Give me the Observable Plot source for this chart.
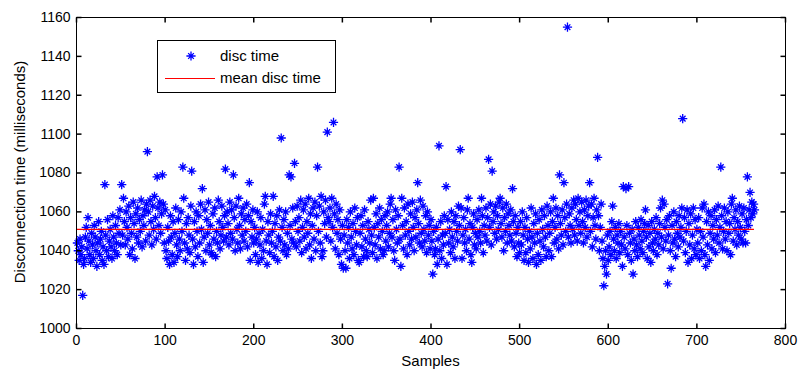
<!DOCTYPE html>
<html><head><meta charset="utf-8">
<script src="https://cdn.jsdelivr.net/npm/d3@7"></script>
<script src="https://cdn.jsdelivr.net/npm/@observablehq/plot@0.6"></script>
<style>body{margin:0;background:#fff}#chart{width:800px;height:376px}</style>
</head><body><div id="chart"></div><script>
// Disconnection time per sample (ms)
const discTime = [
1044,1040,1035,1046,1038,1042,1017,1033,1036,1047,1052,1041,1057,1045,1038,1034,1049,1043,1036,1053,1047,1040,1032,1044,1055,
1038,1046,1050,1035,1042,1033,1074,1048,1040,1056,1037,1045,1051,1042,1036,1058,1047,1040,1053,1044,1038,1057,1049,1061,1043,
1074,1048,1067,1055,1043,1060,1052,1046,1063,1038,1057,1049,1041,1065,1054,1036,1059,1047,1062,1044,1056,1050,1066,1042,1058,1053,1061,1045,1064,1091,
1060,1048,1066,1055,1043,1063,1051,1068,1057,1046,1078,1062,1053,1065,1049,1059,1079,1064,1044,1061,
1040,1036,1052,1045,1033,1058,1047,1038,1055,1034,1049,1062,1043,1037,1056,1046,1040,1060,1050,1083,1067,1044,1035,1054,1041,1057,1048,1039,1063,1081,
1046,1033,1055,1042,1060,1050,1037,1058,1044,1064,1051,1072,1034,1047,1061,1040,1056,1049,1065,1043,
1053,1039,1038,1059,1046,1062,1037,1050,1044,1066,1055,1041,1048,1063,1052,1045,1058,1082,1047,1060,
1054,1043,1065,1049,1061,1046,1079,1057,1040,1063,1051,1044,1067,1053,1041,1059,1048,1062,1045,1056,1050,1064,1042,1058,1075,1035,1055,1047,1061,1044,
1052,1038,1046,1060,1034,1049,1043,1057,1036,1051,1040,1064,1068,1045,1033,1055,1048,1039,1059,1044,
1050,1068,1037,1054,1042,1058,1035,1047,1061,1045,1098,1052,1040,1056,1043,1060,1038,1049,1041,1079,1053,1078,1046,1062,1044,1085,1055,1042,1063,1050,
1057,1045,1066,1039,1052,1061,1047,1064,1041,1055,1049,1067,1043,1059,1036,1053,1062,1046,1065,1040,
1058,1083,1050,1063,1044,1068,1037,1040,1060,1054,1066,1047,1101,1057,1055,1062,1045,1067,1052,1106,1059,1041,1064,1049,1056,1038,1061,1046,1033,1053,
1031,1048,1040,1031,1056,1044,1052,1036,1060,1047,1041,1054,1038,1062,1050,1043,1057,1035,1034,1049,
1058,1042,1053,1037,1061,1046,1040,1037,1055,1051,1044,1066,1048,1039,1067,1052,1043,1059,1036,1054,1047,1062,1041,1056,1050,1038,1040,1058,1045,1053,
1060,1042,1049,1064,1067,1047,1056,1040,1035,1061,1051,1044,1058,1083,1046,1032,1067,1053,1041,1062,
1048,1055,1038,1064,1050,1043,1059,1046,1065,1052,1040,1057,1047,1061,1075,1054,1044,1066,1049,1042,1063,1051,1045,1058,1039,1060,1048,1053,1041,1056,
1045,1028,1050,1038,1041,1052,1033,1046,1094,1040,1055,1036,1048,1043,1058,1049,1073,1033,1056,1044,
1051,1039,1060,1047,1042,1055,1036,1058,1050,1045,1063,1053,1092,1062,1036,1048,1057,1044,1051,1040,1061,1067,1046,1054,1038,1034,1052,1059,1043,1049,
1041,1056,1047,1061,1050,1044,1067,1058,1039,1053,1048,1062,1045,1057,1087,1052,1064,1043,1081,1055,
1060,1049,1063,1046,1058,1051,1065,1067,1054,1047,1062,1040,1057,1050,1064,1044,1059,1053,1048,1061,1045,1072,1055,1042,1058,1049,1037,1052,1044,1039,
1055,1043,1060,1048,1035,1052,1039,1057,1046,1034,1050,1041,1062,1047,1036,1054,1044,1059,1033,1049,
1038,1056,1045,1035,1061,1051,1042,1058,1047,1037,1063,1053,1040,1049,1060,1037,1055,1067,1044,1052,1062,1046,1058,1041,1079,1054,1048,1061,1043,1075,
1057,1050,1064,1155,1047,1059,1053,1044,1062,1051,1066,1048,1064,1056,1045,1067,1053,1060,1049,1065,
1055,1044,1061,1052,1066,1047,1058,1063,1075,1050,1064,1042,1057,1067,1053,1046,1061,1088,1058,1040,1052,1064,1045,1036,1022,1032,1040,1028,1048,1035,
1042,1050,1038,1055,1063,1046,1040,1052,1036,1048,1044,1054,1039,1050,1043,1032,1073,1047,1041,1072,1053,1038,1073,1049,1044,1035,1051,1028,1046,1040,
1055,1043,1037,1052,1048,1041,1056,1045,1039,1050,1054,1061,1047,1036,1053,1042,1049,1034,1055,1044,
1040,1051,1046,1057,1038,1049,1043,1054,1062,1047,1066,1041,1064,1052,1045,1056,1023,1048,1058,1040,
1031,1053,1044,1060,1046,1037,1055,1049,1042,1058,1047,1052,1062,1108,1045,1057,1039,1050,1061,1034,
1054,1043,1059,1036,1048,1062,1041,1056,1038,1051,
1044,1057,1036,1050,1040,1062,1047,1064,1038,1032,1055,1043,1060,1035,1049,1058,1041,1053,1046,1061,
1039,1056,1048,1063,1044,1052,1083,1058,1041,1050,1062,1046,1055,1040,1060,1049,1054,1038,1064,1067,
1045,1057,1051,1061,1043,1055,1048,1063,1052,1046,1059,1044,1062,1050,1044,1056,1078,1053,1061,1070,1057,1065,1059,1064,1061
];
const meanDisc = 1051;
const xTicks = [0,100,200,300,400,500,600,700,800];
const yTicks = [1000,1020,1040,1060,1080,1100,1120,1140,1160];
const seriesNames = ["disc time", "mean disc time"];
const xTitle = "Samples";
const yTitle = "Disconnection time (milliseconds)";

const data = discTime.map((v, i) => ({sample: i + 1, time: v}));
const firstSample = 1, lastSample = discTime.length;

const star = {draw(ctx, size) {
  const r = Math.sqrt(size / Math.PI), d = r * 0.62;
  ctx.moveTo(-r, 0); ctx.lineTo(r, 0);
  ctx.moveTo(0, -r); ctx.lineTo(0, r);
  ctx.moveTo(-d, -d); ctx.lineTo(d, d);
  ctx.moveTo(-d, d); ctx.lineTo(d, -d);
}};
const tickSym = (dx, dy) => ({draw(ctx) { ctx.moveTo(0, 0); ctx.lineTo(dx, dy); }});

const font = "'Liberation Sans', Arial, sans-serif";
const chart = Plot.plot({
  width: 800, height: 376,
  marginLeft: 76, marginRight: 15, marginTop: 17, marginBottom: 48,
  style: {fontFamily: font, fontSize: "14px", color: "black", background: "white"},
  x: {domain: [0, 800]},
  y: {domain: [1000, 1160]},
  marks: [
    Plot.dot(data, {x: "sample", y: "time", symbol: star, r: 4.6, stroke: "#0000ff", strokeWidth: 1.3, fill: "none"}),
    Plot.ruleY([meanDisc], {x1: firstSample, x2: lastSample, stroke: "#ff0000", strokeWidth: 1.2}),
    Plot.frame({stroke: "black"}),
    Plot.dot(xTicks, {x: d => d, y: 1000, symbol: tickSym(0, -5), stroke: "black", r: 3}),
    Plot.dot(xTicks, {x: d => d, y: 1160, symbol: tickSym(0, 5), stroke: "black", r: 3}),
    Plot.dot(yTicks, {x: 0, y: d => d, symbol: tickSym(5, 0), stroke: "black", r: 3}),
    Plot.dot(yTicks, {x: 800, y: d => d, symbol: tickSym(-5, 0), stroke: "black", r: 3}),
    Plot.axisX({ticks: xTicks, tickFormat: d => String(d), tickSize: 0, tickPadding: 7, label: null, fill: "black"}),
    Plot.axisY({ticks: yTicks, tickFormat: d => String(d), tickSize: 0, tickPadding: 6, label: null, fill: "black"})
  ]
});
document.getElementById("chart").appendChild(chart);

const svg = d3.select(chart);
svg.append("text").attr("x", 430.5).attr("y", 366).attr("text-anchor", "middle")
  .attr("font-family", font).attr("font-size", 15).attr("fill", "black").text(xTitle);
svg.append("text").attr("transform", "translate(25,172) rotate(-90)").attr("text-anchor", "middle")
  .attr("font-family", font).attr("font-size", 15).attr("fill", "black").text(yTitle);

const lg = svg.append("g");
lg.append("rect").attr("x", 157.5).attr("y", 40.5).attr("width", 178).attr("height", 52)
  .attr("fill", "white").attr("stroke", "black");
lg.append("path").attr("transform", "translate(191,56)")
  .attr("d", (() => { const p = d3.path(); star.draw(p, Math.PI * 4.6 * 4.6); return p.toString(); })())
  .attr("stroke", "#0000ff").attr("stroke-width", 1.3).attr("fill", "none");
lg.append("line").attr("x1", 165).attr("x2", 215).attr("y1", 78.5).attr("y2", 78.5).attr("stroke", "#ff0000");
lg.selectAll("text.lab").data(seriesNames).join("text")
  .attr("x", 220).attr("y", (d, i) => 56 + i * 22).attr("dy", "0.35em").attr("text-anchor", "start")
  .attr("font-family", font).attr("font-size", 15).attr("fill", "black").text(d => d);
</script></body></html>
